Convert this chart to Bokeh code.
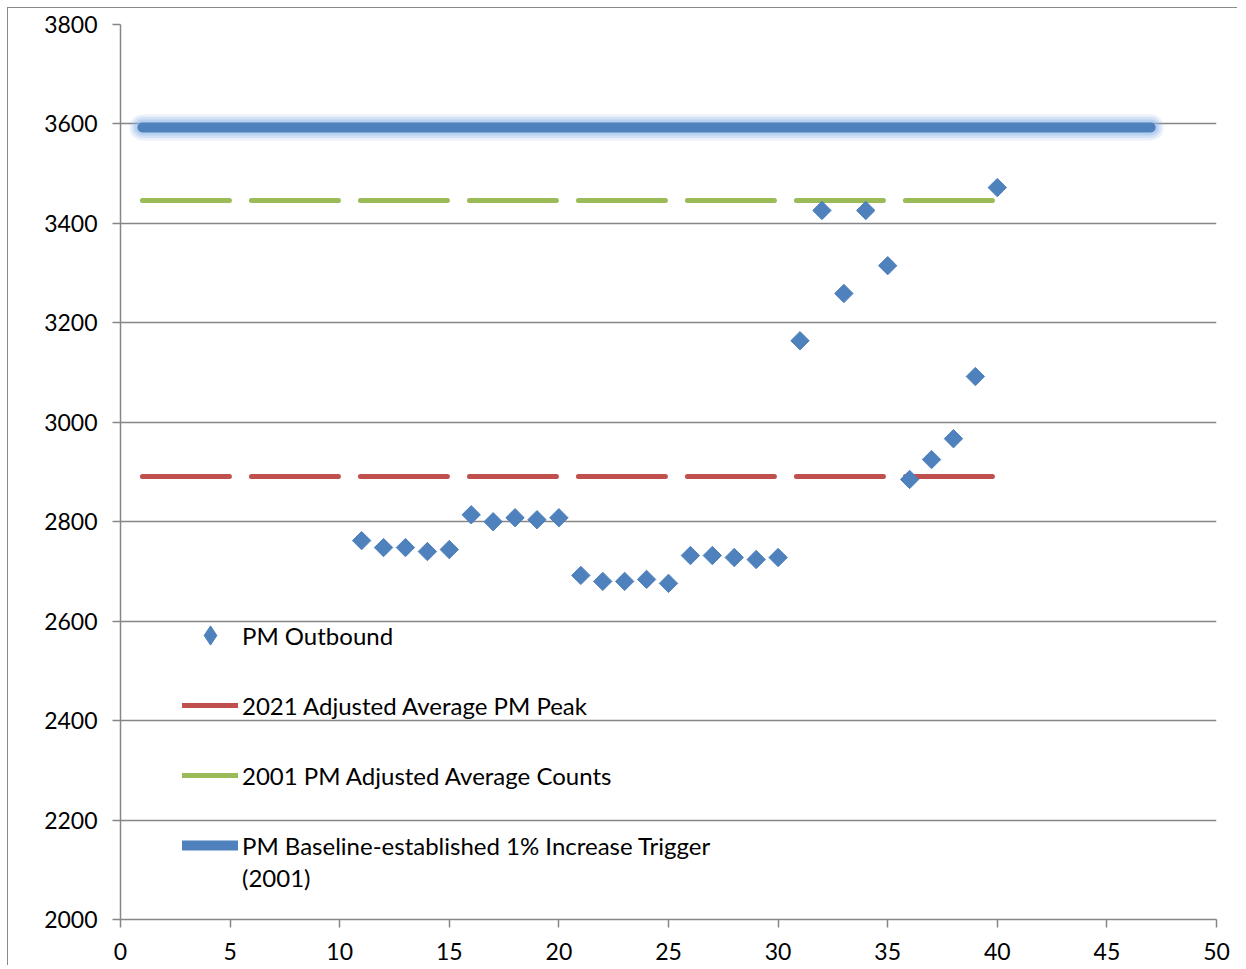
import math
from bokeh.plotting import figure
from bokeh.models import Range1d, Legend, LegendItem, FixedTicker
from bokeh.embed import file_html
from bokeh.resources import INLINE

# ---- data ----
day = list(range(11, 41))
pm_outbound = [2762, 2748, 2748, 2740, 2744,
               2814, 2800, 2808, 2804, 2808,
               2692, 2680, 2680, 2684, 2676,
               2732, 2732, 2728, 2724, 2728,
               3164, 3426, 3259, 3426, 3315,
               2885, 2925, 2967, 3092, 3472]

avg2021_x = [1, 40]
avg2021_y = [2891, 2891]
avg2001_x = [1, 40]
avg2001_y = [3446, 3446]
trigger_x = [1, 47]
trigger_y = [3593, 3593]

x_ticks = list(range(0, 51, 5))
y_ticks = list(range(2000, 3801, 200))

labels = ["PM Outbound",
          "2021 Adjusted Average PM Peak",
          "2001 PM Adjusted Average Counts",
          "PM Baseline-established 1% Increase Trigger",
          "(2001)"]

BLUE = "#4F81BD"
RED = "#C0504D"
GREEN = "#9BBB59"
GRAY = "#868686"
FONT = "Lato"
NAN = float("nan")

p = figure(width=1230, height=958, output_backend="svg", toolbar_location=None,
           x_range=Range1d(0, 50), y_range=Range1d(2000, 3800),
           min_border_left=112, min_border_right=22, min_border_top=16,
           min_border_bottom=47)
p.styles = {"border-left": "1px solid #8a8a8a", "border-top": "1px solid #8a8a8a",
            "margin-left": "7px", "margin-top": "7px"}
p.outline_line_color = None
p.background_fill_color = "white"
p.border_fill_color = "white"

p.xgrid.grid_line_color = None
p.ygrid.grid_line_color = GRAY
p.ygrid.grid_line_width = 1.5
p.xaxis.ticker = FixedTicker(ticks=x_ticks)
p.yaxis.ticker = FixedTicker(ticks=y_ticks)
for ax in (p.xaxis[0], p.yaxis[0]):
    ax.axis_line_color = GRAY
    ax.axis_line_width = 1.5
    ax.major_tick_line_color = GRAY
    ax.major_tick_line_width = 1.5
    ax.major_tick_out = 8
    ax.major_tick_in = 0
    ax.minor_tick_line_color = None
    ax.major_label_text_font = FONT
    ax.major_label_text_font_size = "23px"
    ax.major_label_text_color = "black"
p.yaxis.major_label_standoff = 15
p.xaxis.major_label_standoff = 15

# glow for trigger line
for w, a in [(26, 0.18), (21, 0.25), (16, 0.35)]:
    p.line(trigger_x, trigger_y, line_color="#8DB4E8", line_width=w,
           line_alpha=a, line_cap="round")
r_trig = p.line(trigger_x, trigger_y, line_color=BLUE, line_width=10, line_cap="round")

r_2021 = p.line(avg2021_x, avg2021_y, line_color=RED, line_width=5,
                line_dash="87 22", line_cap="round")
r_2001 = p.line(avg2001_x, avg2001_y, line_color=GREEN, line_width=5,
                line_dash="87 22", line_cap="round")

r_pts = p.scatter(day, pm_outbound, marker="square", angle=math.pi / 4, size=13,
                  fill_color=BLUE, line_color=BLUE, line_width=1)

# legend-only renderers (nothing drawn on the plot)
leg_pts = p.scatter([NAN], [NAN], marker="diamond", fill_color=BLUE, line_color=BLUE)
leg_none = p.line([], [], line_alpha=0)


def style_legend(lg):
    lg.border_line_color = None
    lg.background_fill_alpha = 0
    lg.label_text_font = FONT
    lg.label_text_font_size = "24px"
    lg.label_text_color = "black"
    lg.glyph_width = 56
    lg.glyph_height = 48
    lg.label_height = 48
    lg.label_standoff = 4
    lg.spacing = 22
    lg.padding = 0
    lg.margin = 0


legend = Legend(items=[
    LegendItem(label=labels[0], renderers=[leg_pts]),
    LegendItem(label=labels[1], renderers=[r_2021]),
    LegendItem(label=labels[2], renderers=[r_2001]),
    LegendItem(label=labels[3], renderers=[r_trig]),
], location=(62, 50))
style_legend(legend)
p.add_layout(legend)

legend2 = Legend(items=[LegendItem(label=labels[4], renderers=[leg_none])],
                 location=(62, 18))
style_legend(legend2)
p.add_layout(legend2)

open("out.html", "w").write(file_html(p, INLINE))
